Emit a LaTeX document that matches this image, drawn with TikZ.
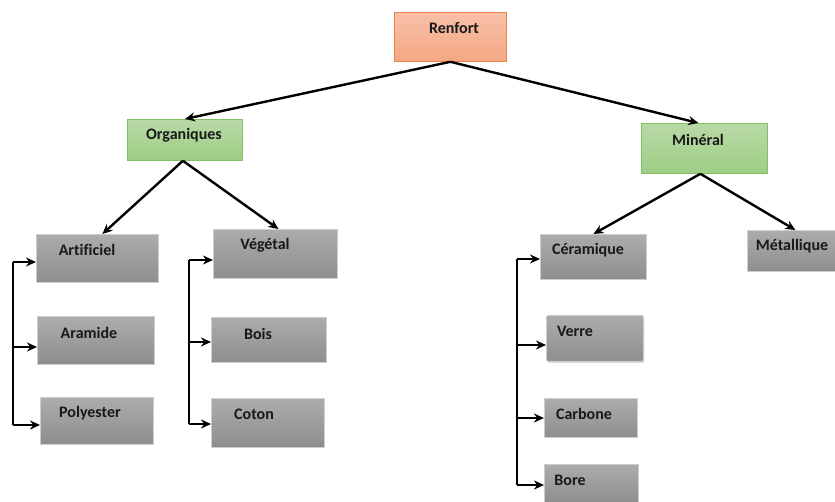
\documentclass[tikz,border=0pt]{standalone}
\usepackage{fontspec}
\setmainfont{Carlito}[Ligatures={NoCommon}]
\usetikzlibrary{arrows.meta,shadows}
\definecolor{grayT}{RGB}{172,172,172}
\definecolor{grayB}{RGB}{142,142,142}
\definecolor{grayD}{RGB}{205,205,205}
\definecolor{grnT}{RGB}{184,218,166}
\definecolor{grnB}{RGB}{158,206,132}
\definecolor{grnD}{RGB}{130,192,100}
\definecolor{salT}{RGB}{248,192,168}
\definecolor{salB}{RGB}{244,168,132}
\definecolor{salD}{RGB}{240,130,70}
\definecolor{txt}{RGB}{25,25,25}
\begin{document}
\begin{tikzpicture}[x=1pt,y=-1pt,
  box/.style={anchor=north west,inner sep=0pt,line width=0.8pt},
  gbox/.style={box,draw=grayD,top color=grayT,bottom color=grayB},
  grbox/.style={box,draw=grnD,top color=grnT,bottom color=grnB},
  sbox/.style={box,draw=salD,top color=salT,bottom color=salB},
  lbl/.style={font=\fontsize{16}{19}\selectfont\bfseries,text=txt,inner sep=0pt},
  arr/.style={line width=2.4pt,-{Stealth[length=10pt,width=9pt]}},
  brk/.style={line width=2.4pt}]
\useasboundingbox (0,0) rectangle (835,502);
% boxes
\node[sbox,minimum width=112pt,minimum height=49pt] (ren) at (394,12) {};
\node[grbox,minimum width=115pt,minimum height=41pt] (org) at (127,119) {};
\node[grbox,minimum width=126pt,minimum height=50pt] (min) at (641,123) {};
\node[gbox,minimum width=122pt,minimum height=48pt] (art) at (36,234) {};
\node[gbox,minimum width=117pt,minimum height=48pt] (ara) at (37,316) {};
\node[gbox,minimum width=113pt,minimum height=47pt] (pol) at (40,397) {};
\node[gbox,minimum width=124pt,minimum height=49pt] (veg) at (213,229) {};
\node[gbox,minimum width=115pt,minimum height=45pt] (boi) at (211,317) {};
\node[gbox,minimum width=113pt,minimum height=49pt] (cot) at (211,398) {};
\node[gbox,minimum width=106pt,minimum height=45pt] (cer) at (540,234) {};
\node[gbox,minimum width=97pt,minimum height=46pt,rounded corners=2pt,
      drop shadow={shadow xshift=1pt,shadow yshift=-1.5pt,opacity=0.3}] (ver) at (546,315) {};
\node[gbox,minimum width=93pt,minimum height=39pt] (car) at (544,398) {};
\node[gbox,minimum width=94pt,minimum height=38pt] (bor) at (544,464) {};
\node[gbox,minimum width=88pt,minimum height=41pt] (met) at (747,230) {};
% labels
\node[lbl] (renT) at (454,28) {Renfort};
\node[lbl] (orgT) at (184,135) {Organiques};
\node[lbl] (minT) at (698,140) {Minéral};
\node[lbl] (artT) at (87,250) {Artificiel};
\node[lbl] (araT) at (89,333) {Aramide};
\node[lbl] (polT) at (90,413) {Polyester};
\node[lbl] (vegT) at (265,245) {Végétal};
\node[lbl] (boiT) at (258,334) {Bois};
\node[lbl] (cotT) at (254,414) {Coton};
\node[lbl] (cerT) at (588,250) {Céramique};
\node[lbl] (verT) at (575,331) {Verre};
\node[lbl] (carT) at (584,414) {Carbone};
\node[lbl] (borT) at (570,480) {Bore};
\node[lbl] (metT) at (792,246) {Métallique};
% tree arrows
\draw[arr] (ren.south) -- (org.north);
\draw[arr] (ren.south) -- ([xshift=-6pt]min.north);
\draw[arr] ([xshift=-2pt]org.south) -- ([xshift=5pt]art.north);
\draw[arr] ([xshift=-2pt]org.south) -- ([xshift=3pt]veg.north);
\draw[arr] ([xshift=-4pt]min.south) -- ([xshift=0pt]cer.north);
\draw[arr] ([xshift=-4pt]min.south) -- ([xshift=4pt]met.north);
% brackets
\coordinate (a1) at (13,262);
\coordinate (a2) at (13,347);
\coordinate (a3) at (13,425);
\draw[brk] (a1) -- (a3);
\draw[arr] (a1) -- (art.west |- a1);
\draw[arr] (a2) -- (ara.west |- a2);
\draw[arr] (a3) -- (pol.west |- a3);
\coordinate (v1) at (189,260);
\coordinate (v2) at (189,342);
\coordinate (v3) at (189,424);
\draw[brk] (v1) -- (v3);
\draw[arr] (v1) -- (veg.west |- v1);
\draw[arr] (v2) -- (boi.west |- v2);
\draw[arr] (v3) -- (cot.west |- v3);
\coordinate (c1) at (517,259);
\coordinate (c2) at (517,345);
\coordinate (c3) at (517,418);
\coordinate (c4) at (517,485);
\draw[brk] (c1) -- (c4);
\draw[arr] (c1) -- (cer.west |- c1);
\draw[arr] (c2) -- (ver.west |- c2);
\draw[arr] (c3) -- (car.west |- c3);
\draw[arr] (c4) -- (bor.west |- c4);
\end{tikzpicture}
\end{document}
